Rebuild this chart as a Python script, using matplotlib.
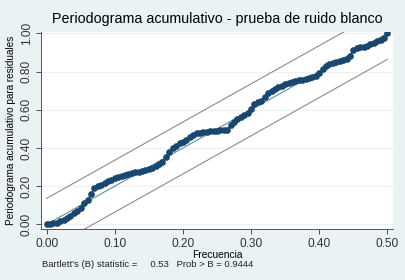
import numpy as np
import matplotlib.pyplot as plt

plt.rcParams['font.family'] = ['Liberation Sans', 'DejaVu Sans']

# Cumulative periodogram of the residuals (101 frequencies 0..0.5)
freq = np.linspace(0, 0.5, 101)
cum_pgram = [
    0.000, 0.003, 0.005, 0.008, 0.015, 0.022, 0.032, 0.045, 0.058, 0.072,
    0.088, 0.110, 0.128, 0.157, 0.188, 0.200, 0.208, 0.215, 0.225, 0.233,
    0.242, 0.248, 0.252, 0.256, 0.262, 0.268, 0.272, 0.276, 0.280, 0.285,
    0.290, 0.296, 0.303, 0.315, 0.325, 0.355, 0.380, 0.400, 0.412, 0.425,
    0.433, 0.440, 0.455, 0.470, 0.477, 0.480, 0.483, 0.486, 0.488, 0.490,
    0.491, 0.492, 0.493, 0.495, 0.520, 0.535, 0.550, 0.562, 0.575, 0.585,
    0.605, 0.628, 0.640, 0.648, 0.665, 0.690, 0.700, 0.708, 0.718, 0.726,
    0.733, 0.740, 0.745, 0.750, 0.754, 0.758, 0.762, 0.768, 0.770, 0.778,
    0.795, 0.812, 0.828, 0.838, 0.845, 0.850, 0.855, 0.860, 0.866, 0.880,
    0.915, 0.925, 0.928, 0.930, 0.936, 0.944, 0.952, 0.960, 0.968, 0.978,
    1.000,
]
band = 0.136  # half width of the confidence band
bartlett_b = 0.53
prob_b = 0.9444

xticks = [0.0, 0.1, 0.2, 0.3, 0.4, 0.5]
yticks = [0.0, 0.2, 0.4, 0.6, 0.8, 1.0]

bg = '#eaf2f3'
navy = '#1a476f'

fig = plt.figure(figsize=(4.05, 2.8), dpi=100, facecolor=bg)
ax = fig.add_axes([0.101, 0.181, 0.869, 0.7065])
ax.set_facecolor('white')

# bands and the white-noise diagonal
xs = np.array([0.0, 0.5])
ax.plot(xs, 2 * xs + band, color='#8c8c8c', lw=0.8, zorder=2)
ax.plot(xs, 2 * xs - band, color='#8c8c8c', lw=0.8, zorder=2)
ax.plot(xs, 2 * xs, color='#5a9596', lw=0.8, zorder=2)

ax.plot(freq, cum_pgram, color=navy, lw=1.0, marker='o', markersize=4.8,
        markeredgewidth=0, zorder=3)

ax.set_xlim(-0.0084, 0.508)
ax.set_ylim(-0.026, 1.01)
ax.set_xticks(xticks)
ax.set_xticklabels([f'{t:.2f}' for t in xticks], fontsize=8.6)
ax.set_yticks(yticks)
ax.set_yticklabels([f'{t:.2f}' for t in yticks], fontsize=8.6,
                   rotation=90, va='center')
ax.grid(axis='y', color=bg, lw=0.8, zorder=0)
ax.tick_params(direction='out', length=3.5, width=0.6, colors='#333333',
               pad=2.5)
for s in ['top', 'right']:
    ax.spines[s].set_visible(False)
for s in ['left', 'bottom']:
    ax.spines[s].set_color('#555555')
    ax.spines[s].set_linewidth(0.7)

ax.set_xlabel('Frecuencia', fontsize=7.4, labelpad=0)
ax.set_ylabel('Periodograma acumulativo para residuales', fontsize=7.2,
              labelpad=3)
fig.text(0.536, 0.932, 'Periodograma acumulativo - prueba de ruido blanco',
         ha='center', va='center', fontsize=10.3)
fig.text(0.103, 0.057,
         f"Bartlett's (B) statistic =     {bartlett_b:.2f}   Prob > B = {prob_b:.4f}",
         ha='left', va='center', fontsize=6.8, color='#222222')

fig.savefig('out.png', dpi=100, facecolor=bg)
